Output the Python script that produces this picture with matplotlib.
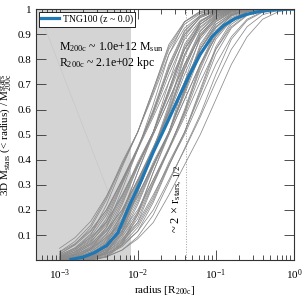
import numpy as np
import matplotlib
matplotlib.use("Agg")
import matplotlib.pyplot as plt
from matplotlib.ticker import LogLocator, FixedLocator, NullFormatter

plt.rcParams['font.family'] = ['Liberation Serif', 'DejaVu Serif']
plt.rcParams['mathtext.fontset'] = 'custom'
plt.rcParams['mathtext.rm'] = 'Liberation Serif'
plt.rcParams['mathtext.it'] = 'Liberation Serif:italic'
plt.rcParams['mathtext.bf'] = 'Liberation Serif:bold'

# ---------------- data ----------------
# common radius grid for the individual (gray) galaxy profiles [R_200c]
gray_radius = [0.001, 0.00158, 0.00251, 0.00398, 0.00631, 0.01, 0.0158, 0.0251,
               0.0398, 0.0631, 0.1, 0.158, 0.251, 0.398, 0.631, 1.0]

gray_profiles = [
    [.016, .045, .10, .22, .37, .51, .68, .86, .95, .985, .997, 1, 1, 1, 1, 1],
    [.033, .075, .14, .25, .39, .51, .68, .85, .95, .99, 1, 1, 1, 1, 1, 1],
    [.024, .063, .13, .24, .38, .51, .66, .82, .925, .975, .995, 1, 1, 1, 1, 1],
    [.047, .09, .155, .255, .38, .51, .67, .84, .94, .982, .997, 1, 1, 1, 1, 1],
    [.008, .028, .07, .15, .30, .44, .60, .78, .915, .972, .993, 1, 1, 1, 1, 1],
    [.025, .06, .115, .20, .32, .44, .57, .71, .84, .93, .978, .996, 1, 1, 1, 1],
    [.02, .05, .105, .19, .32, .45, .59, .77, .91, .975, .997, 1, 1, 1, 1, 1],
    [.013, .04, .093, .18, .31, .445, .58, .74, .88, .955, .988, 1, 1, 1, 1, 1],
    [.01, .034, .08, .165, .305, .445, .59, .76, .90, .966, .992, 1, 1, 1, 1, 1],
    [.032, .066, .12, .20, .315, .445, .59, .76, .90, .966, .992, 1, 1, 1, 1, 1],
    [0, .01, .045, .13, .28, .44, .62, .82, .95, .992, 1, 1, 1, 1, 1, 1],
    [.003, .016, .045, .10, .22, .37, .51, .68, .86, .95, .985, .997, 1, 1, 1, 1],
    [.015, .04, .085, .15, .26, .38, .50, .64, .78, .89, .96, .99, 1, 1, 1, 1],
    [.010, .033, .075, .14, .25, .39, .51, .68, .85, .95, .99, 1, 1, 1, 1, 1],
    [.006, .024, .063, .13, .24, .38, .51, .66, .82, .925, .975, .995, 1, 1, 1, 1],
    [0, 0, .015, .07, .19, .35, .50, .64, .78, .89, .96, .99, 1, 1, 1, 1],
    [.004, .02, .054, .115, .23, .375, .51, .67, .84, .94, .982, .997, 1, 1, 1, 1],
    [.021, .047, .09, .155, .255, .38, .51, .67, .84, .94, .982, .997, 1, 1, 1, 1],
    [0, 0, .012, .06, .18, .35, .51, .71, .89, .97, .995, 1, 1, 1, 1, 1],
    [0, .008, .028, .07, .15, .30, .44, .60, .78, .915, .972, .993, 1, 1, 1, 1],
    [.008, .025, .06, .115, .20, .32, .44, .57, .71, .84, .93, .978, .996, 1, 1, 1],
    [.004, .02, .05, .105, .19, .32, .45, .59, .77, .91, .975, .997, 1, 1, 1, 1],
    [.002, .013, .04, .093, .18, .31, .445, .58, .74, .88, .955, .988, 1, 1, 1, 1],
    [0, 0, .005, .035, .12, .27, .43, .57, .71, .84, .93, .978, .996, 1, 1, 1],
    [0, .01, .034, .08, .165, .305, .445, .59, .76, .90, .966, .992, 1, 1, 1, 1],
    [.013, .032, .066, .12, .20, .315, .445, .59, .76, .90, .966, .992, 1, 1, 1, 1],
    [0, 0, .004, .03, .11, .27, .43, .61, .81, .94, .986, 1, 1, 1, 1, 1],
    [0, 0, .01, .045, .13, .28, .44, .62, .82, .95, .992, 1, 1, 1, 1, 1],
    [0, .003, .016, .045, .10, .22, .37, .51, .68, .86, .95, .985, .997, 1, 1, 1],
    [.003, .015, .04, .085, .15, .26, .38, .50, .64, .78, .89, .96, .99, 1, 1, 1],
    [0, .010, .033, .075, .14, .25, .39, .51, .68, .85, .95, .99, 1, 1, 1, 1],
    [0, .006, .024, .063, .13, .24, .38, .51, .66, .82, .925, .975, .995, 1, 1, 1],
    [0, 0, 0, .015, .07, .19, .35, .50, .64, .78, .89, .96, .99, 1, 1, 1],
    [0, .004, .02, .054, .115, .23, .375, .51, .67, .84, .94, .982, .997, 1, 1, 1],
    [.007, .021, .047, .09, .155, .255, .38, .51, .67, .84, .94, .982, .997, 1, 1, 1],
    [0, 0, 0, .012, .06, .18, .35, .51, .71, .89, .97, .995, 1, 1, 1, 1],
    [0, 0, .008, .028, .07, .15, .30, .44, .60, .78, .915, .972, .993, 1, 1, 1],
    [0, .008, .025, .06, .115, .20, .32, .44, .57, .71, .84, .93, .978, .996, 1, 1],
    [0, .004, .02, .05, .105, .19, .32, .45, .59, .77, .91, .975, .997, 1, 1, 1],
    [0, .002, .013, .04, .093, .18, .31, .445, .58, .74, .88, .955, .988, 1, 1, 1],
    [0, 0, .01, .034, .08, .165, .305, .445, .59, .76, .90, .966, .992, 1, 1, 1],
    [0, .003, .015, .04, .085, .15, .26, .38, .50, .64, .78, .89, .96, .99, 1, 1],
    [0, 0, .010, .033, .075, .14, .25, .39, .51, .68, .85, .95, .99, 1, 1, 1],
    [0, 0, .006, .024, .063, .13, .24, .38, .51, .66, .82, .925, .975, .995, 1, 1],
    [0, 0, .004, .02, .054, .115, .23, .375, .51, .67, .84, .94, .982, .997, 1, 1],
    [0, 0, .008, .025, .06, .115, .20, .32, .44, .57, .71, .84, .93, .978, .996, 1],
    [0, 0, .002, .013, .04, .093, .18, .31, .445, .58, .74, .88, .955, .988, 1, 1],
    [0, 0, .003, .015, .04, .085, .15, .26, .38, .50, .64, .78, .89, .96, .99, 1],
]

# median profile (TNG100, z ~ 0)
median_radius = [0.0014, 0.002, 0.0028, 0.004, 0.0056, 0.0079, 0.0112, 0.0158,
                 0.0224, 0.0316, 0.0447, 0.0631, 0.0891, 0.126, 0.178, 0.251,
                 0.355, 0.501, 0.708, 1.0]
median_mass = [0.003, 0.012, 0.030, 0.058, 0.11, 0.22, 0.32, 0.43, 0.53, 0.63,
               0.73, 0.82, 0.89, 0.935, 0.963, 0.980, 0.990, 0.996, 0.999, 1.0]

# faint line inside resolution region
faint_radius = [0.00059, 0.0048]
faint_mass = [0.96, 0.226]

resolution_limit = 0.0083      # shaded region upper edge [R_200c]
twice_rhalf = 0.041            # 2 x r_stars,1/2 [R_200c]
legend_label = 'TNG100 (z ~ 0.0)'
halo_text = ['M$_{\\rm 200c}$ ~ 1.0e+12 M$_{\\rm sun}$',
             'R$_{\\rm 200c}$ ~ 2.1e+02 kpc']
ytick_vals = [0.1, 0.2, 0.3, 0.4, 0.5, 0.6, 0.7, 0.8, 0.9, 1.0]
ytick_labels = ['0.1', '0.2', '0.3', '0.4', '0.5', '0.6', '0.7', '0.8', '0.9', '1']

# ---------------- plot ----------------
fig = plt.figure(figsize=(3.05, 3.05), dpi=100)
ax = fig.add_axes([0.118, 0.147, 0.846, 0.823])

ax.set_xscale('log')
ax.set_xlim(5e-4, 1.0)
ax.set_ylim(0, 1.0)

ax.axvspan(5e-4, resolution_limit, color='#d4d4d4', lw=0, zorder=0)
ax.plot(faint_radius, faint_mass, color='#c8c8c8', lw=0.5, zorder=0.5)

gx = np.array(gray_radius)
for prof in gray_profiles:
    p = np.array(prof, dtype=float)
    nz = np.nonzero(p)[0]
    start = max(nz[0] - 1, 0)   # begin each profile at its last zero point
    ax.plot(gx[start:], p[start:], color='#8a8a8a', lw=0.55, zorder=1)

ax.axvline(twice_rhalf, color='#a0a0a0', lw=0.7, ls=':', zorder=0.8)
ax.text(twice_rhalf * 0.95, 0.11, '~ 2 $\\times$ r$_{\\rm stars,\\ 1/2}$',
        rotation=90, ha='right', va='bottom', fontsize=9, zorder=3)

ax.plot(median_radius, median_mass, color='#1f77b4', lw=2.3, zorder=2,
        label=legend_label)

leg = ax.legend(loc='upper left', fontsize=7, frameon=True, fancybox=False,
                edgecolor='black', framealpha=1, borderaxespad=0.3,
                borderpad=0.25, handlelength=1.8, handletextpad=0.4)
leg.get_frame().set_linewidth(0.6)

ax.text(0.09, 0.848, halo_text[0], transform=ax.transAxes, fontsize=8.5,
        ha='left', va='center')
ax.text(0.09, 0.785, halo_text[1], transform=ax.transAxes, fontsize=8.5,
        ha='left', va='center')

ax.xaxis.set_major_locator(LogLocator(base=10, numticks=10))
ax.xaxis.set_minor_locator(LogLocator(base=10, subs=np.arange(2, 10), numticks=20))
ax.xaxis.set_minor_formatter(NullFormatter())
ax.yaxis.set_major_locator(FixedLocator(ytick_vals))
ax.set_yticklabels(ytick_labels)

ax.tick_params(which='both', direction='in', top=True, right=True,
               labelsize=8, width=0.6, color='#333333')
ax.tick_params(which='major', length=7)
ax.tick_params(which='minor', length=3.5)
ax.tick_params(axis='x', pad=5)
for s in ax.spines.values():
    s.set_linewidth(0.8)
    s.set_color('#333333')

ax.set_xlabel('radius [R$_{\\rm 200c}$]', fontsize=8, labelpad=2)
ax.set_ylabel('3D M$_{\\rm stars}$ (< radius) / M$^{\\rm stars}_{\\rm 200c}$',
              fontsize=8)
ax.yaxis.set_label_coords(-0.085, 0.5)

fig.savefig('out.png', dpi=100)
